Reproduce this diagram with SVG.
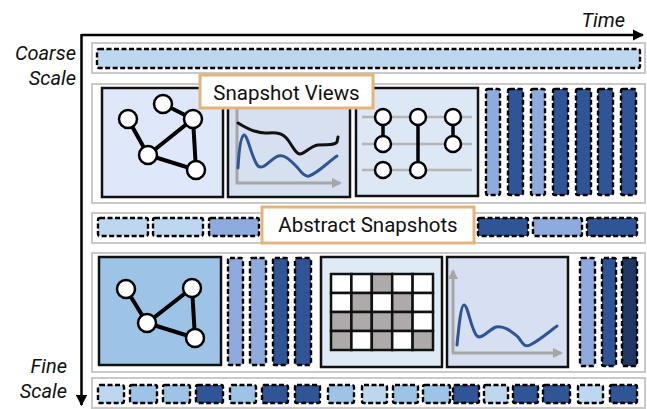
<svg xmlns="http://www.w3.org/2000/svg" width="647" height="409" viewBox="0 0 647 409">
<defs>
<style>
.lbl{font-family:Roboto,"Liberation Sans",sans-serif;font-size:20.5px;fill:#111}
.ax{font-family:Roboto,"Liberation Sans",sans-serif;font-size:20px;font-style:italic;fill:#111}
.row{fill:#fff;stroke:#c9c9c9;stroke-width:2}
.pan{stroke:#111;stroke-width:2.5}
.d{stroke:#000;stroke-width:2.4;stroke-dasharray:5 2.5}
.c0{fill:#bdd7ee}.c1{fill:#9dc3e6}.c2{fill:#8faadc}.c3{fill:#2f5597}.c4{fill:#203864}
.tag{fill:#fff;stroke:#e6b37a;stroke-width:3}
.edge{stroke:#000;stroke-width:4;fill:none}
.node{fill:#fff;stroke:#000;stroke-width:2.5}
.gax{stroke:#a6a6a6;stroke-width:3;fill:none}
.blue{stroke:#2f5597;stroke-width:3;fill:none;stroke-linecap:round;stroke-linejoin:round}
.blk{stroke:#111;stroke-width:3;fill:none;stroke-linecap:round;stroke-linejoin:round}
.cw{fill:#fff}.cg{fill:#aeaaaa}
</style>
<marker id="ah" viewBox="0 0 10 10" refX="9" refY="5" markerWidth="4.5" markerHeight="4.5" orient="auto" markerUnits="strokeWidth"><path d="M0,0 L10,5 L0,10 z" fill="#000"/></marker>
<marker id="gh" viewBox="0 0 10 10" refX="8" refY="5" markerWidth="3.4" markerHeight="3.4" orient="auto" markerUnits="strokeWidth"><path d="M0,0 L10,5 L0,10 z" fill="#a6a6a6"/></marker>
</defs>

<g id="axes">
<line x1="81.5" y1="35" x2="643" y2="35" stroke="#000" stroke-width="2.5" marker-end="url(#ah)"/>
<line x1="81.5" y1="34" x2="81.5" y2="405" stroke="#000" stroke-width="2.5" marker-end="url(#ah)"/>
<text class="ax" x="625" y="27" text-anchor="end">Time</text>
<text class="ax" x="76" y="60" text-anchor="end">Coarse</text>
<text class="ax" x="76" y="85" text-anchor="end">Scale</text>
<text class="ax" x="67" y="373" text-anchor="end">Fine</text>
<text class="ax" x="67" y="398" text-anchor="end">Scale</text>
</g>

<g id="coarse-row">
<rect class="row" x="92" y="43" width="553" height="30"/>
<rect class="d c0" x="97" y="49" width="543" height="19" rx="2"/>
</g>

<g id="snapshot-views-row">
<rect class="row" x="92" y="84" width="553" height="119"/>
<g id="graph-view">
<rect class="pan" x="102" y="88" width="121" height="109" fill="#dfe7fb"/>
<path class="edge" d="M128,119 L148,155 L193,119 L196,170 L148,155 M163,104 L193,119"/>
<circle class="node" cx="128" cy="119" r="9"/>
<circle class="node" cx="163" cy="104" r="9"/>
<circle class="node" cx="193" cy="119" r="9"/>
<circle class="node" cx="148" cy="155" r="9"/>
<circle class="node" cx="196" cy="170" r="9"/>
</g>
<g id="series-view">
<rect class="pan" x="228" y="88" width="122" height="109" fill="#d6e0f1"/>
<path class="gax" d="M237,100 L237,183 L340,183" marker-end="url(#gh)"/>
<path class="blk" d="M238,123 C246,128 256,133 265,133 C274,133 281,131 288,140 C293,147 296,154 300,154 C305,154 310,146 318,145 C328,144 334,146 337,142 L338,137"/>
<path class="blue" d="M238,168 C239,150 241,136 244,135 C248,135 252,160 258,166 C263,170 268,162 276,157 C284,153 290,160 297,167 C302,173 305,177 309,176 C318,173 328,162 337,156"/>
</g>
<g id="circuit-view">
<rect class="pan" x="356" y="88" width="122" height="108" fill="#dce8f5"/>
<path stroke="#b5b5b5" stroke-width="2.5" d="M362,117 H472 M362,144 H472 M362,170 H472"/>
<path stroke="#000" stroke-width="3.5" d="M383,117 V144 M418,117 V170 M453,117 V144"/>
<circle class="node" cx="383" cy="117" r="8"/>
<circle class="node" cx="383" cy="144" r="8"/>
<circle class="node" cx="383" cy="170" r="8"/>
<circle class="node" cx="418" cy="117" r="8"/>
<circle class="node" cx="418" cy="170" r="8"/>
<circle class="node" cx="453" cy="117" r="8"/>
<circle class="node" cx="453" cy="144" r="8"/>
</g>
<g id="bars-row2">
<rect class="d c2" x="486" y="89" width="14" height="106" rx="2"/>
<rect class="d c3" x="508" y="89" width="15" height="106" rx="2"/>
<rect class="d c2" x="531" y="89" width="14" height="106" rx="2"/>
<rect class="d c3" x="553" y="89" width="15" height="106" rx="2"/>
<rect class="d c3" x="576" y="89" width="15" height="106" rx="2"/>
<rect class="d c3" x="598" y="89" width="15" height="106" rx="2"/>
<rect class="d c3" x="621" y="89" width="15" height="106" rx="2"/>
</g>
<g id="snapshot-views-label">
<rect class="tag" x="200" y="75" width="173" height="33"/>
<text class="lbl" x="286.5" y="99.5" text-anchor="middle">Snapshot Views</text>
</g>
</g>

<g id="abstract-row">
<rect class="row" x="92" y="213" width="553" height="30"/>
<rect class="d c0" x="98" y="218" width="50" height="18" rx="2"/>
<rect class="d c0" x="153" y="218" width="50" height="18" rx="2"/>
<rect class="d c2" x="209" y="218" width="50" height="18" rx="2"/>
<rect class="d c3" x="478" y="218" width="50" height="18" rx="2"/>
<rect class="d c2" x="533" y="218" width="49" height="18" rx="2"/>
<rect class="d c3" x="587" y="218" width="50" height="18" rx="2"/>
<g id="abstract-label">
<rect class="tag" x="262" y="207" width="212" height="36"/>
<text class="lbl" x="368" y="232" text-anchor="middle">Abstract Snapshots</text>
</g>
</g>

<g id="fine-views-row">
<rect class="row" x="92" y="253" width="553" height="119"/>
<g id="graph-view-2">
<rect class="pan" x="99" y="257" width="122" height="108" fill="#9dc3e6"/>
<path class="edge" d="M126,289 L147,323 L192,288 L195,338 L147,323"/>
<circle class="node" cx="126" cy="289" r="9"/>
<circle class="node" cx="192" cy="288" r="9"/>
<circle class="node" cx="147" cy="323" r="9"/>
<circle class="node" cx="195" cy="338" r="9"/>
</g>
<g id="bars-row4a">
<rect class="d c2" x="228" y="258" width="15" height="107" rx="2"/>
<rect class="d c2" x="250" y="258" width="16" height="107" rx="2"/>
<rect class="d c3" x="273" y="258" width="15" height="107" rx="2"/>
<rect class="d c3" x="295" y="258" width="16" height="107" rx="2"/>
</g>
<g id="matrix-view">
<rect class="pan" x="321" y="257" width="121" height="110" fill="#deebf7"/>
<g stroke="#111" stroke-width="2.5">
<rect class="cw" x="331" y="274" width="20.4" height="19"/>
<rect class="cw" x="351.4" y="274" width="20.4" height="19"/>
<rect class="cg" x="371.8" y="274" width="20.4" height="19"/>
<rect class="cw" x="392.2" y="274" width="20.4" height="19"/>
<rect class="cw" x="412.6" y="274" width="20.4" height="19"/>
<rect class="cw" x="331" y="293" width="20.4" height="19"/>
<rect class="cg" x="351.4" y="293" width="20.4" height="19"/>
<rect class="cw" x="371.8" y="293" width="20.4" height="19"/>
<rect class="cg" x="392.2" y="293" width="20.4" height="19"/>
<rect class="cw" x="412.6" y="293" width="20.4" height="19"/>
<rect class="cg" x="331" y="312" width="20.4" height="19"/>
<rect class="cg" x="351.4" y="312" width="20.4" height="19"/>
<rect class="cg" x="371.8" y="312" width="20.4" height="19"/>
<rect class="cg" x="392.2" y="312" width="20.4" height="19"/>
<rect class="cw" x="412.6" y="312" width="20.4" height="19"/>
<rect class="cg" x="331" y="331" width="20.4" height="19"/>
<rect class="cw" x="351.4" y="331" width="20.4" height="19"/>
<rect class="cg" x="371.8" y="331" width="20.4" height="19"/>
<rect class="cw" x="392.2" y="331" width="20.4" height="19"/>
<rect class="cg" x="412.6" y="331" width="20.4" height="19"/>
</g>
</g>
<g id="series-view-2">
<rect class="pan" x="447" y="257" width="121" height="110" fill="#d6e0f2"/>
<path class="gax" d="M453,353 L453,271" marker-end="url(#gh)"/>
<path class="gax" d="M452,353 L561,353" marker-end="url(#gh)"/>
<path class="blue" d="M457,345 C459,325 461,305 464,305 C468,305 471,330 477,336 C482,340 488,330 496,327 C504,325 512,332 518,337 C522,342 524,348 530,345 C540,340 550,331 557,326"/>
</g>
<g id="bars-row4b">
<rect class="d c2" x="580" y="258" width="15" height="108" rx="2"/>
<rect class="d c3" x="602" y="258" width="14" height="108" rx="2"/>
<rect class="d c4" x="622" y="258" width="15" height="108" rx="2"/>
</g>
</g>

<g id="fine-row">
<rect class="row" x="92" y="378" width="553" height="30"/>
<rect class="d c0" x="98" y="385" width="26" height="18" rx="2"/>
<rect class="d c1" x="130" y="385" width="27" height="18" rx="2"/>
<rect class="d c1" x="163" y="385" width="27" height="18" rx="2"/>
<rect class="d c3" x="196" y="385" width="27" height="18" rx="2"/>
<rect class="d c1" x="230" y="385" width="26" height="18" rx="2"/>
<rect class="d c3" x="262" y="385" width="26" height="18" rx="2"/>
<rect class="d c3" x="295" y="385" width="25" height="18" rx="2"/>
<rect class="d c1" x="328" y="385" width="26" height="18" rx="2"/>
<rect class="d c0" x="362" y="385" width="25" height="18" rx="2"/>
<rect class="d c1" x="393" y="385" width="25" height="18" rx="2"/>
<rect class="d c1" x="423" y="385" width="27" height="18" rx="2"/>
<rect class="d c3" x="453" y="385" width="26" height="18" rx="2"/>
<rect class="d c0" x="484" y="385" width="24" height="18" rx="2"/>
<rect class="d c3" x="513" y="385" width="25" height="18" rx="2"/>
<rect class="d c3" x="543" y="385" width="27" height="18" rx="2"/>
<rect class="d c0" x="578" y="385" width="25" height="18" rx="2"/>
<rect class="d c3" x="610" y="385" width="27" height="18" rx="2"/>
</g>
</svg>
